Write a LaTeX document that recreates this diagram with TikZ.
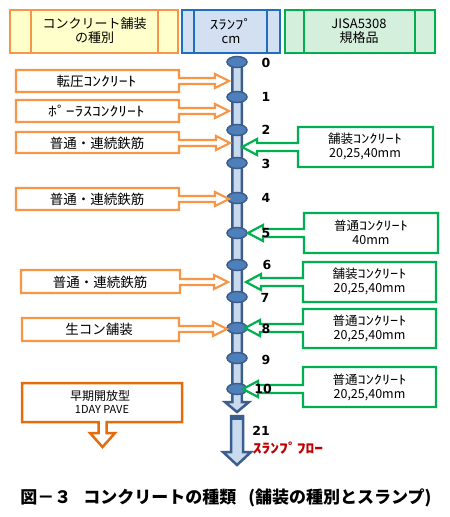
\documentclass[tikz,border=0pt]{standalone}
\usepackage{fontspec}
\usetikzlibrary{shapes.geometric}
\newfontfamily\jp{Noto Sans CJK JP}
\newfontfamily\hw{Noto Sans CJK JP}[FakeStretch=1.3]
\newfontfamily\numf{DejaVu Sans}
\definecolor{orC}{HTML}{F79646}
\definecolor{orD}{HTML}{E46C0A}
\definecolor{grC}{HTML}{00B050}
\definecolor{blH}{HTML}{1F6FC0}
\definecolor{poleD}{HTML}{3B5E8C}
\definecolor{poleF}{HTML}{C9D9EE}
\definecolor{ellF}{HTML}{4F7FBA}
\definecolor{fillY}{HTML}{FFFFCC}
\definecolor{fillB}{HTML}{D3E0F1}
\definecolor{fillG}{HTML}{D5EFDD}
\definecolor{redT}{HTML}{C00000}
\newcommand\ocallout[6]{%
  \draw[ocall] (#1,#2) -- (#3,#2) -- (#3,#5-3) -- (#6-14,#5-3) -- (#6-14,#5-7) -- (#6,#5)
   -- (#6-14,#5+7) -- (#6-14,#5+3) -- (#3,#5+3) -- (#3,#4) -- (#1,#4) -- cycle;}
\newcommand\gcallout[6]{%
  \draw[gcall] (#1,#2) -- (#3,#2) -- (#3,#4) -- (#1,#4) -- (#1,#5+4) -- (#6+15,#5+4)
   -- (#6+15,#5+8) -- (#6,#5) -- (#6+15,#5-8) -- (#6+15,#5-4) -- (#1,#5-4) -- cycle;}
\begin{document}
\begin{tikzpicture}[x=1pt,y=-1pt,
  ocall/.style={draw=orC,line width=2.2pt,fill=white},
  gcall/.style={draw=grC,line width=2.2pt,fill=white},
  otext/.style={font=\jp\fontsize{13.5}{15}\selectfont,inner sep=0pt},
  gtext/.style={font=\jp\fontsize{12.5}{15}\selectfont,inner sep=0pt},
  htext/.style={font=\jp\fontsize{13}{14}\selectfont,align=center,inner sep=0pt},
  pole/.style={draw=poleD,line width=2.5pt,fill=poleF,line join=miter},
  pnode/.style={ellipse,draw=poleD,line width=1.5pt,fill=ellF,minimum width=20pt,minimum height=11pt,inner sep=0pt},
  numl/.style={font=\numf\bfseries\fontsize{12.5}{14}\selectfont,inner sep=0pt}]
\useasboundingbox (0,0) rectangle (450,517);
\fill[white] (0,0) rectangle (450,517);
% headers
\draw[draw=orC,line width=2.5pt,fill=fillY] (10,10) rectangle (178,53);
\draw[orC,line width=2pt] (31,10) -- (31,53) (158,10) -- (158,53);
\node[htext] (h1) at (94.5,31) {コンクリート舗装\\の種別};
\draw[draw=blH,line width=2.5pt,fill=fillB] (182,10) rectangle (280,53);
\draw[blH,line width=2pt] (194,10) -- (194,53) (267,10) -- (267,53);
\node[htext] (h2) at (231,31) {{\hw ｽﾗﾝﾌﾟ}\\cm};
\draw[draw=grC,line width=2.5pt,fill=fillG] (285,10) rectangle (435,53);
\draw[grC,line width=2pt] (304,10) -- (304,53) (415,10) -- (415,53);
\node[htext] (h3) at (359,31) {JISA5308\\規格品};
% pole
\draw[pole] (232.25,62) -- (232.25,402) -- (225,402) -- (237,412) -- (249,402) -- (241.75,402) -- (241.75,62) -- cycle;
\draw[pole] (231,416) -- (231,452) -- (223,452) -- (237,465) -- (251,452) -- (243,452) -- (243,416) -- cycle;
\draw[poleD,line width=4pt] (229.75,417.5) -- (244.25,417.5);
\foreach \n/\y in {0/62,1/97,2/130,3/163,4/198,5/233,6/265,7/297,8/328,9/358,10/389}{
  \node[pnode] (p\n) at (237,\y) {};
}
% orange callouts
\ocallout{16}{70}{179}{92}{81}{229}
\node[otext] (o1) at (96.5,81) {転圧{\hw ｺﾝｸﾘｰﾄ}};
\ocallout{16}{100}{179}{122}{111}{229}
\node[otext] (o2) at (96.5,111) {\hw ﾎﾟｰﾗｽｺﾝｸﾘｰﾄ};
\ocallout{16}{132}{179}{153}{143}{230}
\node[otext] (o3) at (97,143) {普通・連続鉄筋};
\ocallout{16}{188}{179}{210}{199}{229}
\node[otext] (o4) at (97,199) {普通・連続鉄筋};
\ocallout{21}{270}{180}{293}{282}{228}
\node[otext] (o5) at (100,282) {普通・連続鉄筋};
\ocallout{22}{318}{179}{341}{329}{227}
\node[otext] (o6) at (99,329) {生コン舗装};
% early opening box
\draw[draw=orD,line width=2.5pt,fill=white] (22,383) -- (182,383) -- (182,422) -- (106.5,422) -- (106.5,433) -- (115,433) -- (102.5,447) -- (90,433) -- (98.5,433) -- (98.5,422) -- (22,422) -- cycle;
\node[font=\jp\fontsize{12}{13}\selectfont,inner sep=0pt] (o7a) at (100,395.5) {早期開放型};
\node[font=\jp\fontsize{11}{12}\selectfont,inner sep=0pt] (o7b) at (102,409) {1DAY PAVE};
% green callouts
\gcallout{298}{127}{433}{167}{147}{242}
\node[gtext] (g1a) at (365,139) {舗装{\hw ｺﾝｸﾘｰﾄ}};
\node[gtext] (g1b) at (365,154) {20,25,40mm};
\gcallout{304}{213}{438}{253}{233}{248}
\node[gtext] (g2a) at (371,226) {普通{\hw ｺﾝｸﾘｰﾄ}};
\node[gtext] (g2b) at (371,240) {40mm};
\gcallout{303}{262}{436}{302}{282}{246}
\node[gtext] (g3a) at (369.5,274) {舗装{\hw ｺﾝｸﾘｰﾄ}};
\node[gtext] (g3b) at (369.5,289) {20,25,40mm};
\gcallout{303}{309}{436}{348}{328}{245}
\node[gtext] (g4a) at (369.5,321) {普通{\hw ｺﾝｸﾘｰﾄ}};
\node[gtext] (g4b) at (369.5,336) {20,25,40mm};
\gcallout{303}{367}{436}{407}{389}{243}
\node[gtext] (g5a) at (369.5,380) {普通{\hw ｺﾝｸﾘｰﾄ}};
\node[gtext] (g5b) at (369.5,395) {20,25,40mm};
% numbers (drawn on top)
\foreach \n/\x/\y in {0/266/62.5,1/266/97,2/266/130,3/266/164,4/266/198,5/266/233,6/267/265,7/265/298,8/266/329,9/266/360,10/263/389,21/261/431}{
  \node[numl] (l\n) at (\x,\y) {\n};
}
\node[font=\hw\bfseries\fontsize{13.5}{15}\selectfont,text=redT,inner sep=0pt] (flow) at (288,448) {ｽﾗﾝﾌﾟﾌﾛｰ};
% caption
\node[font=\jp\bfseries\fontsize{17}{19}\selectfont,inner sep=0pt] (cap) at (226,498) {図－３\hspace{12pt}コンクリートの種類\hspace{12pt}(舗装の種別とスランプ)};
\end{tikzpicture}
\end{document}
